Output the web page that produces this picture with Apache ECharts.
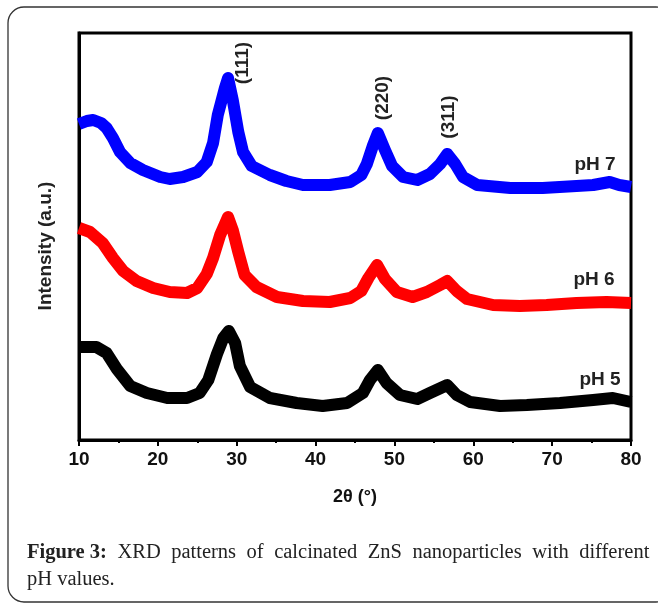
<!DOCTYPE html>
<html>
<head>
<meta charset="utf-8">
<script src="https://cdn.jsdelivr.net/npm/echarts@6.0.0/dist/echarts.min.js"></script>
<style>
html,body{margin:0;padding:0;background:#fff;}
#chart{width:658px;height:604px;}
</style>
</head>
<body>
<div id="chart"></div>
<script>
// 2θ tick labels
var xTicks = [10, 20, 30, 40, 50, 60, 70, 80];

// pH 7 (blue)
var ph7Angles = [10, 11, 11.8, 12.8, 13.5, 14.3, 15.2, 16.5, 18.1, 20.3, 21.5, 23.2, 25, 26.2, 27, 27.6, 28.5, 28.9, 29.5, 30.2, 30.8, 31.9, 34.2, 36.3, 38.4, 41.8, 44.4, 45.8, 46.5, 47.3, 47.9, 48.8, 49.7, 51.1, 52.9, 54.5, 55.8, 56.7, 57.7, 58.7, 60.5, 64.7, 68.8, 73.1, 75.2, 77.3, 78.5, 80];
var ph7Intensity = [3160, 3190, 3200, 3170, 3120, 3020, 2880, 2770, 2700, 2630, 2610, 2630, 2680, 2780, 2970, 3250, 3520, 3620, 3400, 3080, 2880, 2740, 2650, 2590, 2550, 2550, 2580, 2650, 2760, 2950, 3070, 2900, 2740, 2630, 2600, 2660, 2760, 2860, 2760, 2630, 2550, 2520, 2520, 2540, 2550, 2580, 2550, 2530];

// pH 6 (red)
var ph6Angles = [10, 11.4, 13, 14.3, 15.6, 17.3, 19.4, 21.5, 23.7, 25, 26.2, 27, 27.9, 28.9, 29.5, 30.2, 31, 32.5, 35.1, 38.4, 41.8, 44.4, 45.8, 46.7, 47.8, 48.8, 50.3, 52.3, 54.1, 55.8, 56.7, 57.9, 59.2, 62.5, 65.9, 69.3, 73.1, 76.9, 80];
var ph6Intensity = [2120, 2080, 1970, 1820, 1690, 1590, 1520, 1480, 1470, 1520, 1660, 1820, 2050, 2230, 2100, 1880, 1650, 1530, 1430, 1390, 1380, 1420, 1490, 1620, 1750, 1610, 1480, 1430, 1480, 1550, 1590, 1490, 1410, 1350, 1340, 1350, 1370, 1380, 1370];

// pH 5 (black)
var ph5Angles = [10, 12.2, 13.5, 14.8, 16.5, 18.6, 21.2, 23.7, 25.3, 26.4, 27.5, 28.3, 29, 29.8, 30.4, 31.7, 34.2, 37.6, 40.9, 44, 46, 46.9, 47.9, 49, 50.7, 52.9, 54.5, 56.7, 57.9, 59.6, 63.4, 66.8, 71, 75.2, 77.7, 80];
var ph5Intensity = [930, 930, 870, 710, 540, 470, 420, 420, 470, 600, 860, 1020, 1090, 970, 740, 530, 420, 370, 340, 370, 470, 600, 700, 570, 450, 410, 470, 550, 450, 380, 340, 350, 370, 400, 420, 380];

var seriesNames = ['pH 7', 'pH 6', 'pH 5'];
var peakLabels = ['(111)', '(220)', '(311)'];
var captionBold = 'Figure 3:';
var captionLine1Words = ['XRD', 'patterns', 'of', 'calcinated', 'ZnS', 'nanoparticles', 'with', 'different'];
var captionLine2 = 'pH values.';

function pairs(a, b) { return a.map(function (v, i) { return [v, b[i]]; }); }

var SANS = "'Liberation Sans', Arial, sans-serif";
var SERIF = "'Liberation Serif', 'Times New Roman', serif";

var chart = echarts.init(document.getElementById('chart'), null, {renderer: 'canvas'});

function lineSeries(name, data, color) {
  return {
    name: name, type: 'line', data: data, showSymbol: false, symbol: 'none',
    animation: false,
    lineStyle: {color: color, width: 12, join: 'round', cap: 'butt'}
  };
}

// justified first caption line, built with widened gaps
var capRich = {
  b: {fontWeight: 'bold', fontSize: 20.5, fontFamily: SERIF, color: '#222'},
  w: {fontSize: 20.5, fontFamily: SERIF, color: '#222'},
  s: {fontSize: 20.5, fontFamily: SERIF, width: 10.5}
};
var capText = '{b|' + captionBold + '}{s| }' + captionLine1Words.map(function (w) { return '{w|' + w + '}'; }).join('{s| }');

chart.setOption({
  animation: false,
  backgroundColor: '#fff',
  grid: {left: 79, top: 33, width: 552, height: 407, show: true, borderColor: '#000', borderWidth: 3, containLabel: false},
  xAxis: {
    type: 'value', min: xTicks[0], max: xTicks[xTicks.length - 1], interval: 10,
    axisLine: {show: true, lineStyle: {color: '#000', width: 3}},
    axisTick: {show: true, inside: false, length: 6, lineStyle: {color: '#000', width: 2}},
    minorTick: {show: true, splitNumber: 2, length: 3, lineStyle: {color: '#000', width: 2}},
    splitLine: {show: false},
    axisLabel: {color: '#111', fontSize: 19, fontWeight: 'bold', fontFamily: SANS, margin: 10}
  },
  yAxis: {
    type: 'value', min: 0, max: 4070,
    axisLine: {show: true, lineStyle: {color: '#000', width: 3}},
    axisTick: {show: false}, axisLabel: {show: false}, splitLine: {show: false}
  },
  series: [
    lineSeries(seriesNames[0], pairs(ph7Angles, ph7Intensity), '#0000ff'),
    lineSeries(seriesNames[1], pairs(ph6Angles, ph6Intensity), '#ff0000'),
    lineSeries(seriesNames[2], pairs(ph5Angles, ph5Intensity), '#000000')
  ],
  graphic: [
    {type: 'rect', silent: true, z: -1, shape: {x: 8, y: 7, width: 664, height: 595, r: 16},
      style: {fill: 'none', stroke: '#333', lineWidth: 1.3}},
    {type: 'text', x: 46, y: 246, rotation: Math.PI / 2,
      style: {text: 'Intensity (a.u.)', fill: '#222', font: 'bold 19px ' + SANS, align: 'center', verticalAlign: 'middle'}},
    {type: 'text', x: 355, y: 497,
      style: {text: '2θ (°)', fill: '#111', font: 'bold 18px ' + SANS, align: 'center', verticalAlign: 'middle'}},
    {type: 'text', x: 243, y: 63, rotation: Math.PI / 2,
      style: {text: peakLabels[0], fill: '#222', font: 'bold 19px ' + SANS, align: 'center', verticalAlign: 'middle'}},
    {type: 'text', x: 383, y: 98, rotation: Math.PI / 2,
      style: {text: peakLabels[1], fill: '#222', font: 'bold 19px ' + SANS, align: 'center', verticalAlign: 'middle'}},
    {type: 'text', x: 449, y: 117, rotation: Math.PI / 2,
      style: {text: peakLabels[2], fill: '#222', font: 'bold 19px ' + SANS, align: 'center', verticalAlign: 'middle'}},
    {type: 'text', x: 595, y: 165,
      style: {text: seriesNames[0], fill: '#222', font: 'bold 19px ' + SANS, align: 'center', verticalAlign: 'middle'}},
    {type: 'text', x: 594, y: 280,
      style: {text: seriesNames[1], fill: '#222', font: 'bold 19px ' + SANS, align: 'center', verticalAlign: 'middle'}},
    {type: 'text', x: 600, y: 380,
      style: {text: seriesNames[2], fill: '#222', font: 'bold 19px ' + SANS, align: 'center', verticalAlign: 'middle'}},
    {type: 'text', x: 27, y: 553,
      style: {text: capText, fill: '#222', font: '20.5px ' + SERIF, align: 'left', verticalAlign: 'middle', rich: capRich}},
    {type: 'text', x: 27, y: 580,
      style: {text: captionLine2, fill: '#222', font: '20.5px ' + SERIF, align: 'left', verticalAlign: 'middle'}}
  ]
});
</script>
</body>
</html>
